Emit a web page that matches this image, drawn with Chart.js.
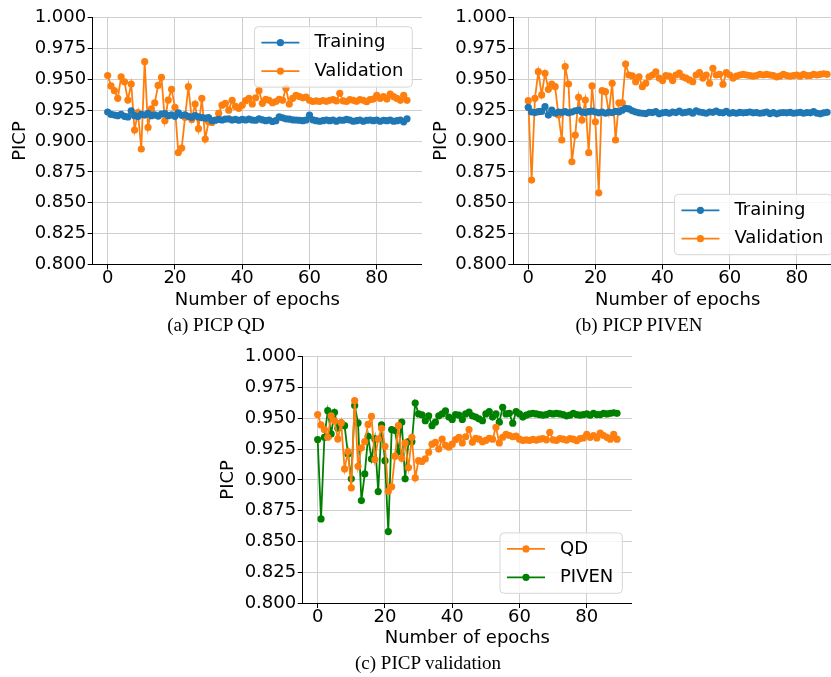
<!DOCTYPE html>
<html>
<head>
<meta charset="utf-8">
<script src="https://cdn.jsdelivr.net/npm/chart.js@4.4.1/dist/chart.umd.min.js"></script>
<style>
html, body { margin: 0; padding: 0; background: #fff; width: 831px; height: 677px; overflow: hidden; }
canvas { position: absolute; }
.cap { position: absolute; font-family: 'Liberation Serif', 'Times New Roman', serif; font-size: 19px; line-height: 22px; color: #000; white-space: nowrap; transform: translateX(-50%); }
</style>
</head>
<body>
<canvas id="chartQD" width="422" height="320" style="left:0px;top:0px"></canvas>
<canvas id="chartPIVEN" width="417" height="320" style="left:425px;top:0px"></canvas>
<canvas id="chartVal" width="417" height="319" style="left:215px;top:340px"></canvas>
<div class="cap" style="left:216px;top:314px">(a) PICP QD</div>
<div class="cap" style="left:639px;top:314px">(b) PICP PIVEN</div>
<div class="cap" style="left:428px;top:652px">(c) PICP validation</div>
<script>
// epoch index 0..89
const epochs = Array.from({ length: 90 }, (_, i) => i);

const qdTrain = [
    0.9235, 0.9215, 0.921, 0.9205, 0.9215, 0.920, 0.9195, 0.9245, 0.9205, 0.9198,
    0.9215, 0.921, 0.9225, 0.9205, 0.9212, 0.9202, 0.9218, 0.9222, 0.9205, 0.9212,
    0.920, 0.9228, 0.9208, 0.9212, 0.920, 0.9192, 0.9205, 0.9195, 0.919, 0.9185,
    0.919, 0.9165, 0.9168, 0.9175, 0.917, 0.9178, 0.918, 0.917, 0.9175, 0.9168,
    0.9175, 0.917, 0.9178, 0.917, 0.9168, 0.918, 0.9172, 0.9165, 0.917, 0.9158,
    0.9165, 0.9195, 0.9188, 0.918, 0.9178, 0.9172, 0.917, 0.9168, 0.9165, 0.917,
    0.921, 0.9172, 0.9165, 0.916, 0.9165, 0.917, 0.9165, 0.917, 0.916, 0.917,
    0.9168, 0.9175, 0.917, 0.916, 0.9165, 0.917, 0.916, 0.9168, 0.917, 0.9165,
    0.917, 0.916, 0.9168, 0.9165, 0.917, 0.916, 0.9165, 0.917, 0.9155, 0.918
];
const qdVal = [
    0.953, 0.9446, 0.9408, 0.9346, 0.952, 0.948, 0.9332, 0.9462, 0.9089, 0.923,
    0.8935, 0.9643, 0.911, 0.926, 0.931, 0.945, 0.9516, 0.9165, 0.9332, 0.9419,
    0.9273, 0.8907, 0.8943, 0.9192, 0.944, 0.9175, 0.930, 0.910, 0.9346, 0.9016,
    0.9156, 0.915, 0.917, 0.9224, 0.929, 0.9305, 0.925, 0.933, 0.928, 0.9265,
    0.929, 0.9327, 0.9346, 0.930, 0.935, 0.9408, 0.9305, 0.9338, 0.933, 0.931,
    0.932, 0.9338, 0.933, 0.9427, 0.930, 0.9346, 0.937, 0.936, 0.935, 0.9355,
    0.933, 0.932, 0.9325, 0.932, 0.9328, 0.9322, 0.933, 0.9335, 0.9325, 0.9386,
    0.9325, 0.932, 0.9335, 0.933, 0.9322, 0.9335, 0.933, 0.9318, 0.9335, 0.934,
    0.937, 0.9345, 0.936, 0.934, 0.938, 0.936, 0.9345, 0.933, 0.937, 0.933
];
const pivenTrain = [
    0.9273, 0.9235, 0.923, 0.9238, 0.924, 0.9278, 0.921, 0.925, 0.9225, 0.9235,
    0.9232, 0.9238, 0.9228, 0.9235, 0.9245, 0.925, 0.9235, 0.923, 0.9238, 0.9242,
    0.9235, 0.9228, 0.9235, 0.9225, 0.9235, 0.923, 0.924, 0.9235, 0.925, 0.9265,
    0.926, 0.9245, 0.9235, 0.9228, 0.9225, 0.9222, 0.9232, 0.923, 0.9238, 0.922,
    0.9228, 0.9232, 0.9225, 0.9235, 0.923, 0.9242, 0.9228, 0.9232, 0.9238, 0.9225,
    0.9245, 0.9235, 0.923, 0.9225, 0.9235, 0.9232, 0.9242, 0.923, 0.9228, 0.924,
    0.9225, 0.923, 0.9225, 0.9232, 0.9228, 0.923, 0.9235, 0.9228, 0.923, 0.9225,
    0.9228, 0.9235, 0.9222, 0.923, 0.922, 0.9228, 0.923, 0.9228, 0.9232, 0.9225,
    0.9228, 0.9232, 0.9225, 0.923, 0.9228, 0.9238, 0.9225, 0.922, 0.9228, 0.9232
];
const pivenVal = [
    0.9327, 0.8683, 0.9346, 0.9562, 0.9373, 0.9549, 0.9419, 0.9462, 0.944, 0.921,
    0.9008, 0.9603, 0.9462, 0.8832, 0.9048, 0.9354, 0.917, 0.9332, 0.8905, 0.9446,
    0.9156, 0.858, 0.9408, 0.940, 0.923, 0.9468, 0.9008, 0.931, 0.931, 0.9624,
    0.9535, 0.9527, 0.948, 0.952, 0.944, 0.9468, 0.952, 0.9535, 0.956, 0.951,
    0.949, 0.953, 0.9525, 0.949, 0.9535, 0.955, 0.952, 0.951, 0.9495, 0.948,
    0.9535, 0.9554, 0.951, 0.9535, 0.9468, 0.9589, 0.9535, 0.954, 0.946, 0.9554,
    0.9535, 0.951, 0.9525, 0.9535, 0.954, 0.9535, 0.953, 0.9525, 0.953, 0.954,
    0.9535, 0.954, 0.9535, 0.953, 0.952, 0.9525, 0.954, 0.953, 0.9525, 0.953,
    0.9535, 0.9525, 0.954, 0.953, 0.953, 0.954, 0.9535, 0.954, 0.9545, 0.954
];

const BLUE = '#1f77b4';
const ORANGE = '#ff7f0e';
const GREEN = '#008000';
const FONT = { family: 'DejaVu Sans', size: 18 };

function series(label, values, color) {
    return {
        label: label,
        data: values.map((v, i) => ({ x: epochs[i], y: v })),
        borderColor: color,
        backgroundColor: color,
        borderWidth: 1.8,
        pointRadius: 3.6,
        pointHoverRadius: 3.6,
        pointBorderWidth: 0,
        tension: 0
    };
}

// matplotlib-like legend box drawn inside the plot area
const boxLegend = {
    id: 'boxLegend',
    afterDatasetsDraw(chart, args, opts) {
        const ctx = chart.ctx;
        const area = chart.chartArea;
        const ds = chart.data.datasets;
        ctx.save();
        ctx.font = FONT.size + 'px "' + FONT.family + '"';
        const textW = Math.max(...ds.map(d => ctx.measureText(d.label).width));
        const rowH = 28.4;
        const w = 7 + 38 + 15 + textW + 9;
        const h = 16 + rowH * (ds.length - 1) + 16;
        const x = area.right - 9.7 - w;
        const y = opts.loc === 'lower' ? area.bottom - 9.7 - h : area.top + 9.1;
        ctx.beginPath();
        ctx.roundRect(x, y, w, h, 4);
        ctx.fillStyle = 'rgba(255,255,255,0.8)';
        ctx.fill();
        ctx.strokeStyle = '#d6d6d6';
        ctx.lineWidth = 1;
        ctx.stroke();
        ds.forEach((d, i) => {
            const cy = y + 16 + i * rowH;
            ctx.strokeStyle = d.borderColor;
            ctx.lineWidth = 1.8;
            ctx.beginPath();
            ctx.moveTo(x + 7, cy);
            ctx.lineTo(x + 45, cy);
            ctx.stroke();
            ctx.fillStyle = d.borderColor;
            ctx.beginPath();
            ctx.arc(x + 26, cy, 3.6, 0, Math.PI * 2);
            ctx.fill();
            ctx.fillStyle = '#000';
            ctx.textBaseline = 'middle';
            ctx.textAlign = 'left';
            ctx.fillText(d.label, x + 60, cy);
        });
        ctx.restore();
    }
};

function makeChart(id, datasets, cfg) {
    return new Chart(document.getElementById(id), {
        type: 'line',
        data: { datasets: datasets },
        plugins: [boxLegend],
        options: {
            responsive: false,
            animation: false,
            events: [],
            layout: { autoPadding: false, padding: { top: cfg.padTop, left: 0, right: 0, bottom: 0 } },
            plugins: {
                legend: { display: false },
                tooltip: { enabled: false },
                boxLegend: { loc: cfg.legendLoc }
            },
            scales: {
                x: {
                    type: 'linear',
                    min: -4.45,
                    max: 93.45,
                    afterFit: s => { s.height = cfg.xH; },
                    ticks: {
                        stepSize: 20,
                        includeBounds: false,
                        maxRotation: 0,
                        padding: -1.5,
                        color: '#000',
                        font: FONT
                    },
                    grid: { color: '#cfcfcf', lineWidth: 1, tickLength: 5, tickColor: '#000', tickWidth: 1 },
                    border: { display: true, color: '#000', width: 1 },
                    title: {
                        display: true,
                        text: 'Number of epochs',
                        color: '#000',
                        font: FONT,
                        padding: { top: 0, bottom: cfg.xTitlePad }
                    }
                },
                y: {
                    min: 0.8,
                    max: 1.0,
                    afterFit: s => { s.width = cfg.yW; },
                    ticks: {
                        stepSize: 0.025,
                        padding: 1.5,
                        color: '#000',
                        font: FONT,
                        callback: v => v.toFixed(3)
                    },
                    grid: { color: '#cfcfcf', lineWidth: 1, tickLength: 5, tickColor: '#000', tickWidth: 1 },
                    border: { display: true, color: '#000', width: 1 },
                    title: {
                        display: true,
                        text: 'PICP',
                        color: '#000',
                        font: FONT,
                        padding: { top: cfg.yTitlePad, bottom: 0 }
                    }
                }
            }
        }
    });
}

makeChart('chartQD',
    [series('Training', qdTrain, BLUE), series('Validation', qdVal, ORANGE)],
    { padTop: 17.6, xH: 55.6, yW: 92.7, yTitlePad: 10, xTitlePad: 9.2, legendLoc: 'upper' });

makeChart('chartPIVEN',
    [series('Training', pivenTrain, BLUE), series('Validation', pivenVal, ORANGE)],
    { padTop: 17.6, xH: 55.6, yW: 88.3, yTitlePad: 5.8, xTitlePad: 9.2, legendLoc: 'lower' });

makeChart('chartVal',
    [series('QD', qdVal, ORANGE), series('PIVEN', pivenVal, GREEN)],
    { padTop: 16.7, xH: 56, yW: 87.7, yTitlePad: 3, xTitlePad: 9.6, legendLoc: 'lower' });
</script>
</body>
</html>
